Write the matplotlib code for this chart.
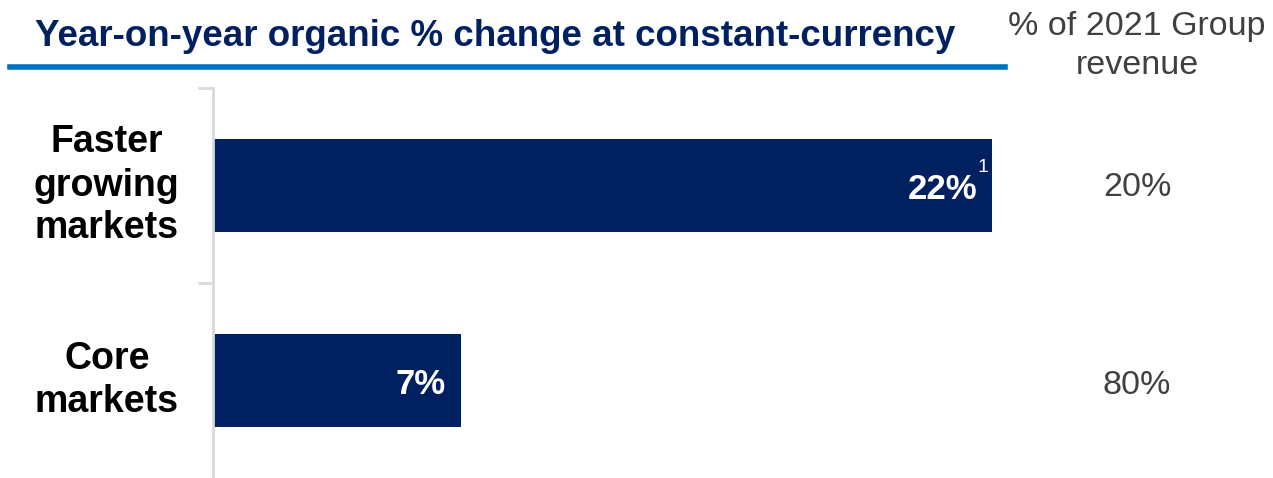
import matplotlib.pyplot as plt

plt.rcParams['font.family'] = ['Liberation Sans', 'DejaVu Sans']

# data
categories = ['Faster\ngrowing\nmarkets', 'Core\nmarkets']
growth = [22, 7]
growth_labels = ['22%', '7%']
revenue_share = ['20%', '80%']

navy = '#002060'
grey = '#404040'

fig = plt.figure(figsize=(12.73, 4.78), dpi=100)
# axes spans the area right of the category labels
ax = fig.add_axes([213/1273, 0, 780/1273, (478-88)/478])

ypos = [0, 1]
ax.barh(ypos, growth, height=0.48, color=navy, left=0)
ax.set_xlim(0, 22.0 * 780 / 779)
ax.set_ylim(1.5, -0.5)

for y, v, lab in zip(ypos, growth, growth_labels):
    ax.text(v - 0.42, y + 0.02, lab, color='white', fontsize=25, fontweight='bold',
            ha='right', va='center')
# footnote marker on the first bar
ax.text(growth[0] - 0.25, -0.09, '1', color='white', fontsize=14, ha='center', va='center')

for y, cat in zip(ypos, categories):
    ax.text(-3.0, y, cat, fontsize=27, fontweight='bold', color='black',
            ha='center', va='center', linespacing=1.25)

for sp in ['top', 'right', 'bottom']:
    ax.spines[sp].set_visible(False)
ax.spines['left'].set_color('#d9d9d9')
ax.spines['left'].set_linewidth(2)
ax.set_xticks([])
ax.set_yticks([-0.5, 0.5])
ax.set_yticklabels([])
ax.tick_params(axis='y', length=11, width=2, color='#d9d9d9')

# header and right-hand column
fig.text(35/1273, 1 - 36/478, 'Year-on-year organic % change at constant-currency',
         fontsize=26.5, fontweight='bold', color=navy, ha='left', va='center')
fig.add_artist(plt.Line2D([10/1273, 1005/1273], [1 - 67/478, 1 - 67/478],
                          color='#0070C0', linewidth=4))
fig.text(1137/1273, 1 - 46/478, '% of 2021 Group\nrevenue', fontsize=24.5, color=grey,
         ha='center', va='center', linespacing=1.35)
for y, s in zip([188, 385], revenue_share):
    fig.text(1137/1273, 1 - y/478, s, fontsize=24.5, color=grey, ha='center', va='center')

fig.savefig('out.png', dpi=100)
